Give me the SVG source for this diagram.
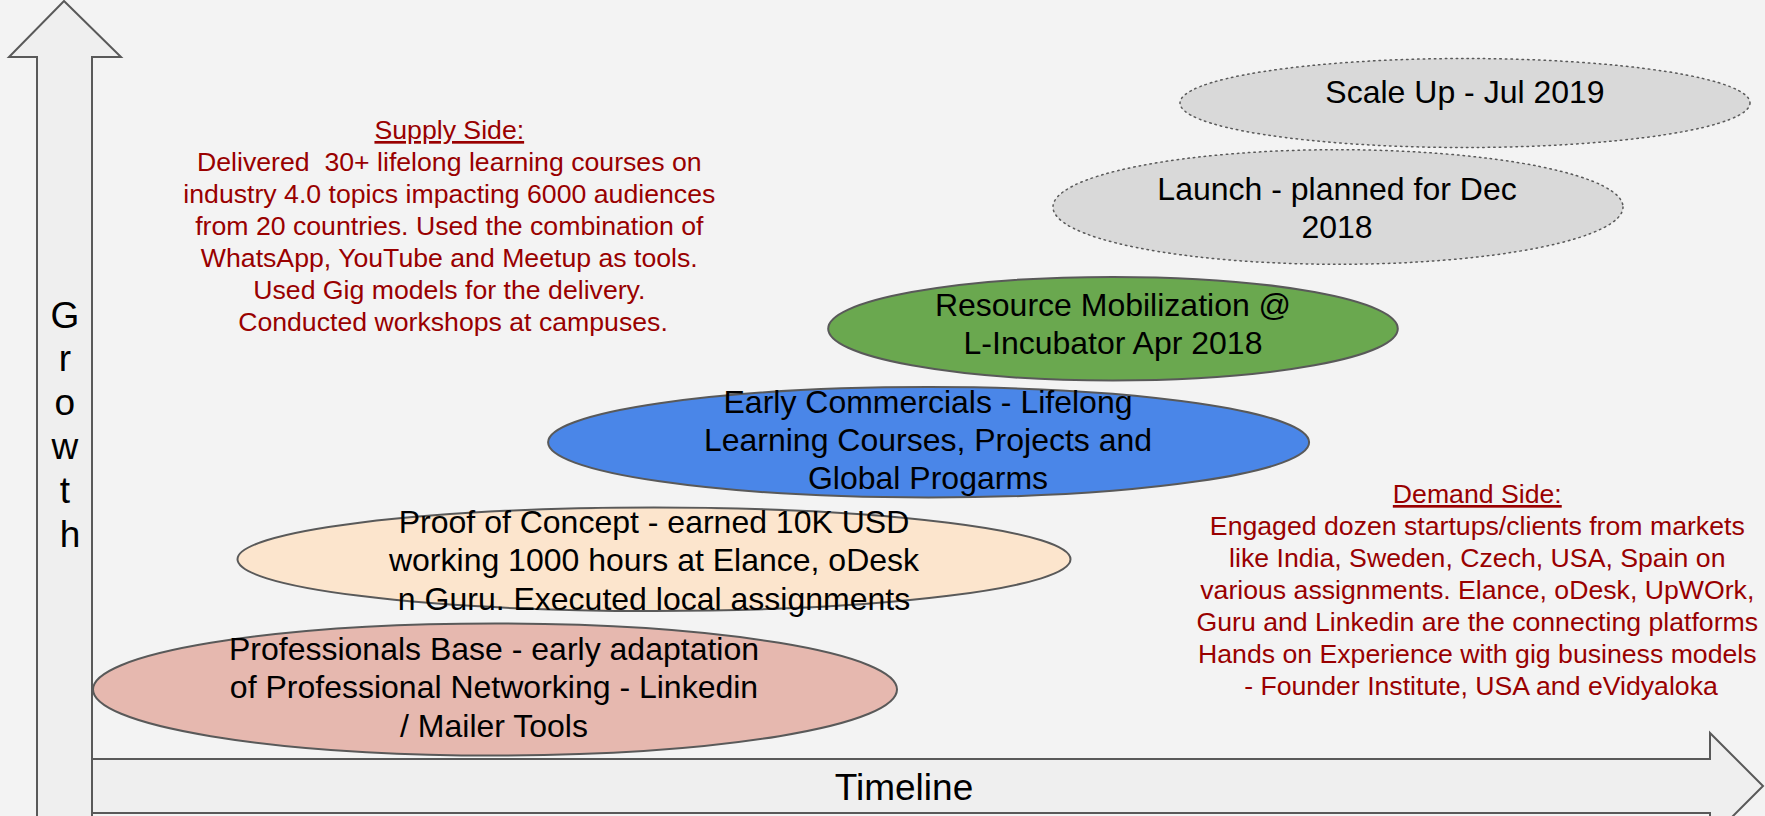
<svg xmlns="http://www.w3.org/2000/svg" width="1765" height="816" viewBox="0 0 1765 816">
<style>
  .bg{fill:#f3f3f3}
  .axis{fill:#efefef;stroke:#595959;stroke-width:2;stroke-linejoin:miter}
  .node{stroke:#595959;stroke-width:2}
  .dotted{fill:#d9d9d9;stroke:#595959;stroke-width:1.5;stroke-dasharray:1.5 4;stroke-linecap:round}
  .lbl{font-family:"Liberation Sans",Arial,sans-serif;font-size:32px;fill:#000;text-anchor:middle}
  .axlbl{font-family:"Liberation Sans",Arial,sans-serif;font-size:37px;fill:#000;text-anchor:middle}
  .note{font-family:"Liberation Sans",Arial,sans-serif;font-size:26.67px;fill:#990000;text-anchor:middle}
  .u{text-decoration:underline}
</style>
<rect class="bg" x="0" y="0" width="1765" height="816"/>

<g id="axes">
  <g id="timeline-axis">
    <path class="axis" d="M92 759 L1710 759 L1710 733 L1763 786 L1710 839 L1710 813 L92 813"/>
    <text class="axlbl" x="904" y="800">Timeline</text>
  </g>
  <g id="growth-axis">
    <path class="axis" d="M64 1 L121 57 L92 57 L92 820 L37 820 L37 57 L9 57 Z"/>
    <text class="axlbl" font-size="36">
      <tspan x="70" y="328">G</tspan>
      <tspan x="70" y="371">r</tspan>
      <tspan x="70" y="415">o</tspan>
      <tspan x="70" y="459">w</tspan>
      <tspan x="70" y="503">t</tspan>
      <tspan x="70" y="547">h</tspan>
    </text>
  </g>
</g>

<g id="scale-up">
  <ellipse class="dotted" cx="1465" cy="103" rx="285" ry="44.5"/>
  <text class="lbl" x="1465" y="103">Scale Up - Jul 2019</text>
</g>

<g id="launch">
  <ellipse class="dotted" cx="1338" cy="207" rx="285" ry="57.3"/>
  <text class="lbl"><tspan x="1337" y="200">Launch - planned for Dec</tspan><tspan x="1337" y="238">2018</tspan></text>
</g>

<g id="resource-mobilization">
  <ellipse class="node" fill="#6aa84f" cx="1113" cy="328.7" rx="284.8" ry="51.8"/>
  <text class="lbl"><tspan x="1113" y="316">Resource Mobilization @</tspan><tspan x="1113" y="354">L-Incubator Apr 2018</tspan></text>
</g>

<g id="early-commercials">
  <ellipse class="node" fill="#4a86e8" cx="928.6" cy="442.3" rx="380.5" ry="55.2"/>
  <text class="lbl"><tspan x="928" y="413">Early Commercials - Lifelong</tspan><tspan x="928" y="451">Learning Courses, Projects and</tspan><tspan x="928" y="489">Global Progarms</tspan></text>
</g>

<g id="proof-of-concept">
  <ellipse class="node" fill="#fce5cd" cx="654" cy="559.3" rx="416.5" ry="51.7"/>
  <text class="lbl"><tspan x="654" y="533">Proof of Concept - earned 10K USD</tspan><tspan x="654" y="571">working 1000 hours at Elance, oDesk</tspan><tspan x="654" y="610">n Guru. Executed local assignments</tspan></text>
</g>

<g id="professionals-base">
  <ellipse class="node" fill="#e6b8af" cx="495" cy="689.5" rx="402" ry="66"/>
  <text class="lbl"><tspan x="494" y="660">Professionals Base - early adaptation</tspan><tspan x="494" y="698">of Professional Networking - Linkedin</tspan><tspan x="494" y="737">/ Mailer Tools</tspan></text>
</g>

<g id="supply-side">
  <text class="note">
    <tspan class="u" x="453" y="139">Supply Side:</tspan>
    <tspan x="453" y="171">Delivered&#160; 30+ lifelong learning courses on</tspan>
    <tspan x="453" y="203">industry 4.0 topics impacting 6000 audiences</tspan>
    <tspan x="453" y="235">from 20 countries. Used the combination of</tspan>
    <tspan x="453" y="267">WhatsApp, YouTube and Meetup as tools.</tspan>
    <tspan x="453" y="299">Used Gig models for the delivery.</tspan>
    <tspan x="453" y="331">Conducted workshops at campuses.</tspan>
  </text>
</g>

<g id="demand-side">
  <text class="note">
    <tspan class="u" x="1481" y="503">Demand Side:</tspan>
    <tspan x="1481" y="535">Engaged dozen startups/clients from markets</tspan>
    <tspan x="1481" y="567">like India, Sweden, Czech, USA, Spain on</tspan>
    <tspan x="1481" y="599">various assignments. Elance, oDesk, UpWOrk,</tspan>
    <tspan x="1481" y="631">Guru and Linkedin are the connecting platforms</tspan>
    <tspan x="1481" y="663">Hands on Experience with gig business models</tspan>
    <tspan x="1481" y="695">- Founder Institute, USA and eVidyaloka</tspan>
  </text>
</g>
</svg>
